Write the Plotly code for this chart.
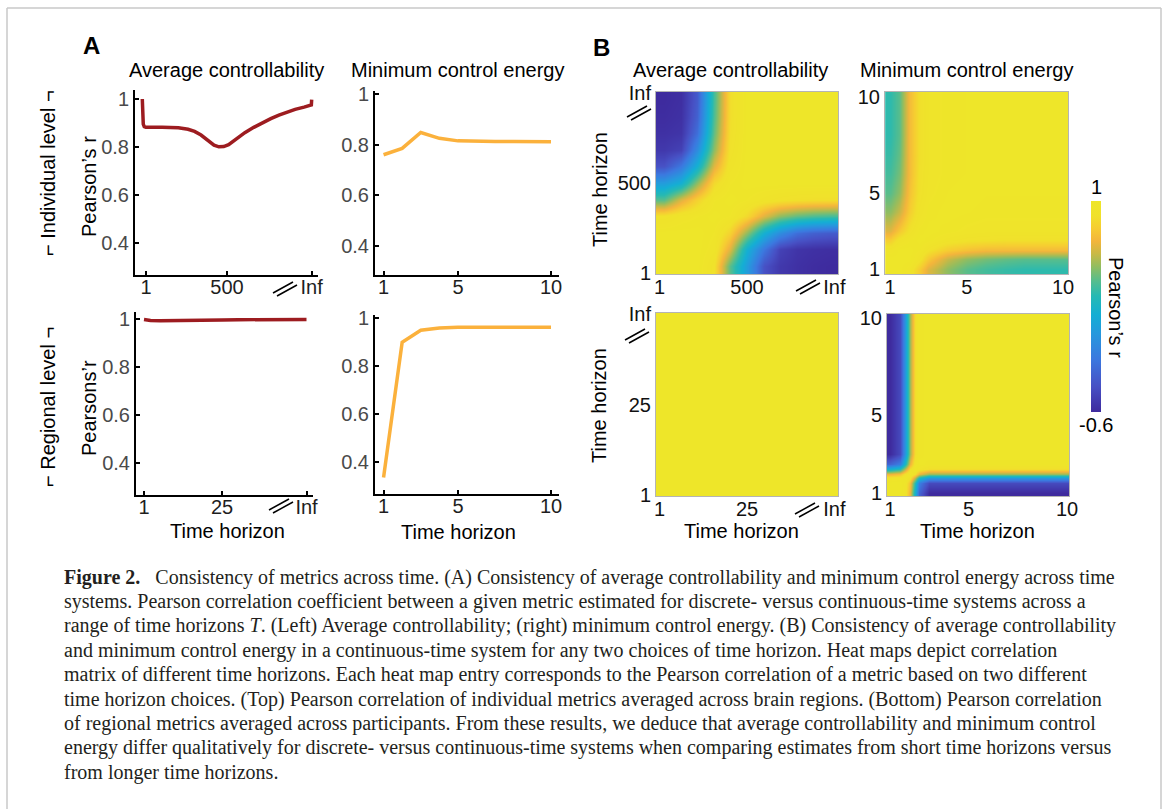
import plotly.graph_objects as go

W, H = 1168, 809


def fx(p):
    return p / W


def fy(p):
    return 1 - p / H


# ---------------- data: panel A (line plots) ----------------
# Individual level, average controllability (x: time horizon, Inf placed at 1022)
avgctrl_ind_T = [-22, -20, -16, -10, 0, 100, 200, 260, 300, 340, 380, 420, 450, 480, 510,
                 560, 610, 665, 720, 770, 820, 870, 920, 975, 1020, 1022]
avgctrl_ind_r = [1.0, 0.94, 0.895, 0.885, 0.882, 0.882, 0.88, 0.874, 0.865, 0.85, 0.83, 0.808,
                 0.801, 0.802, 0.81, 0.835, 0.86, 0.882, 0.902, 0.918, 0.933, 0.946, 0.957,
                 0.966, 0.975, 0.997]
avgctrl_ind_ticks = [1, 500, 1022]
avgctrl_ind_ticktext = ["1", "500", "Inf"]

# Individual level, minimum control energy
mce_T = [1, 2, 3, 4, 5, 6, 7, 8, 9, 10]
mce_ind_r = [0.76, 0.785, 0.848, 0.825, 0.815, 0.812, 0.812, 0.812, 0.812, 0.811]
mce_ticks = [1, 5, 10]
mce_ticktext = ["1", "5", "10"]

# Regional level, average controllability (Inf placed at 51)
avgctrl_reg_T = [1, 3, 6, 10, 15, 20, 25, 30, 35, 40, 45, 51]
avgctrl_reg_r = [0.998, 0.994, 0.993, 0.993, 0.994, 0.995, 0.996, 0.997, 0.997, 0.998, 0.998, 0.998]
avgctrl_reg_ticks = [1, 25, 51]
avgctrl_reg_ticktext = ["1", "25", "Inf"]

# Regional level, minimum control energy
mce_reg_r = [0.336, 0.899, 0.949, 0.958, 0.961, 0.962, 0.962, 0.962, 0.962, 0.962]

r_ticks = [0.4, 0.6, 0.8, 1]
r_ticktext = ["0.4", "0.6", "0.8", "1"]

# ---------------- data: panel B (heat maps) ----------------
# average controllability, individual level: grid position 0 (T=1) .. 1 (T=Inf)
ac_grid = [0.0, 0.1, 0.2, 0.3, 0.4, 0.5, 0.6, 0.7, 0.8, 0.9, 1.0]
ac_ind_z = [
    [1.00, 1.00, 1.00, 0.90, 0.40, 0.02, -0.40, -0.53, -0.57, -0.59, -0.60],
    [1.00, 1.00, 1.00, 0.95, 0.65, 0.15, -0.20, -0.48, -0.55, -0.57, -0.58],
    [1.00, 1.00, 1.00, 0.97, 0.82, 0.50, 0.15, -0.08, -0.25, -0.32, -0.35],
    [0.90, 0.95, 0.97, 1.00, 0.97, 0.85, 0.65, 0.50, 0.42, 0.38, 0.36],
    [0.40, 0.65, 0.82, 0.97, 1.00, 0.97, 0.93, 0.90, 0.88, 0.87, 0.87],
    [0.02, 0.15, 0.50, 0.85, 0.97, 1.00, 1.00, 1.00, 1.00, 1.00, 1.00],
    [-0.40, -0.20, 0.15, 0.65, 0.93, 1.00, 1.00, 1.00, 1.00, 1.00, 1.00],
    [-0.53, -0.48, -0.08, 0.50, 0.90, 1.00, 1.00, 1.00, 1.00, 1.00, 1.00],
    [-0.57, -0.55, -0.25, 0.42, 0.88, 1.00, 1.00, 1.00, 1.00, 1.00, 1.00],
    [-0.59, -0.57, -0.32, 0.38, 0.87, 1.00, 1.00, 1.00, 1.00, 1.00, 1.00],
    [-0.60, -0.58, -0.35, 0.36, 0.87, 1.00, 1.00, 1.00, 1.00, 1.00, 1.00],
]
ac_ticks_x = [-0.028, 0.5, 1.028]
ac_ticks_y = [-0.042, 0.5, 1.042]
ac_ind_ticktext = ["1", "500", "Inf"]
ac_reg_ticktext = ["1", "25", "Inf"]

# average controllability, regional level
ac_reg_grid = [0.0, 0.5, 1.0]
ac_reg_z = [
    [1.00, 0.995, 0.99],
    [0.995, 1.00, 0.995],
    [0.99, 0.995, 1.00],
]

# minimum control energy, individual level
mce_ind_grid = [1, 1.5, 2, 2.5, 3, 4, 5, 6, 7, 8, 9, 10]
mce_ind_z = [
    [1.00, 1.00, 0.95, 0.80, 0.65, 0.50, 0.40, 0.35, 0.32, 0.30, 0.30, 0.30],
    [1.00, 1.00, 1.00, 0.92, 0.78, 0.60, 0.50, 0.45, 0.42, 0.40, 0.40, 0.40],
    [0.95, 1.00, 1.00, 0.97, 0.90, 0.80, 0.75, 0.72, 0.72, 0.72, 0.72, 0.72],
    [0.80, 0.92, 0.97, 1.00, 0.98, 0.93, 0.90, 0.89, 0.88, 0.88, 0.88, 0.88],
    [0.65, 0.78, 0.90, 0.98, 1.00, 0.98, 0.96, 0.95, 0.95, 0.95, 0.95, 0.95],
    [0.50, 0.60, 0.80, 0.93, 0.98, 1.00, 0.99, 0.98, 0.98, 0.98, 0.98, 0.98],
    [0.40, 0.50, 0.75, 0.90, 0.96, 0.99, 1.00, 0.99, 0.99, 0.99, 0.99, 0.99],
    [0.35, 0.45, 0.72, 0.89, 0.95, 0.98, 0.99, 1.00, 1.00, 1.00, 0.99, 0.99],
    [0.32, 0.42, 0.72, 0.88, 0.95, 0.98, 0.99, 1.00, 1.00, 1.00, 1.00, 1.00],
    [0.30, 0.40, 0.72, 0.88, 0.95, 0.98, 0.99, 1.00, 1.00, 1.00, 1.00, 1.00],
    [0.30, 0.40, 0.72, 0.88, 0.95, 0.98, 0.99, 0.99, 1.00, 1.00, 1.00, 1.00],
    [0.30, 0.40, 0.72, 0.88, 0.95, 0.98, 0.99, 0.99, 1.00, 1.00, 1.00, 1.00],
]

# minimum control energy, regional level
mce_reg_grid = [1, 1.5, 1.75, 2.0, 2.25, 2.5, 3, 4, 5, 6, 7, 8, 9, 10]
mce_reg_z = [
    [1.00, 1.00, 0.94, 0.68, 0.17, -0.30, -0.60, -0.60, -0.60, -0.60, -0.60, -0.60, -0.60, -0.60],
    [1.00, 1.00, 0.96, 0.74, 0.28, -0.16, -0.44, -0.44, -0.44, -0.44, -0.44, -0.44, -0.44, -0.44],
    [0.94, 0.96, 1.00, 0.90, 0.57, 0.22, -0.02, -0.02, -0.02, -0.02, -0.02, -0.02, -0.02, -0.02],
    [0.68, 0.74, 0.90, 1.00, 0.88, 0.68, 0.52, 0.52, 0.52, 0.52, 0.52, 0.52, 0.52, 0.52],
    [0.17, 0.28, 0.57, 0.88, 1.00, 0.95, 0.87, 0.87, 0.87, 0.87, 0.87, 0.87, 0.87, 0.87],
    [-0.30, -0.16, 0.22, 0.68, 0.95, 1.00, 0.98, 0.98, 0.98, 0.98, 0.98, 0.98, 0.98, 0.98],
    [-0.60, -0.44, -0.02, 0.52, 0.87, 0.98, 1.00, 1.00, 1.00, 1.00, 1.00, 1.00, 1.00, 1.00],
    [-0.60, -0.44, -0.02, 0.52, 0.87, 0.98, 1.00, 1.00, 1.00, 1.00, 1.00, 1.00, 1.00, 1.00],
    [-0.60, -0.44, -0.02, 0.52, 0.87, 0.98, 1.00, 1.00, 1.00, 1.00, 1.00, 1.00, 1.00, 1.00],
    [-0.60, -0.44, -0.02, 0.52, 0.87, 0.98, 1.00, 1.00, 1.00, 1.00, 1.00, 1.00, 1.00, 1.00],
    [-0.60, -0.44, -0.02, 0.52, 0.87, 0.98, 1.00, 1.00, 1.00, 1.00, 1.00, 1.00, 1.00, 1.00],
    [-0.60, -0.44, -0.02, 0.52, 0.87, 0.98, 1.00, 1.00, 1.00, 1.00, 1.00, 1.00, 1.00, 1.00],
    [-0.60, -0.44, -0.02, 0.52, 0.87, 0.98, 1.00, 1.00, 1.00, 1.00, 1.00, 1.00, 1.00, 1.00],
    [-0.60, -0.44, -0.02, 0.52, 0.87, 0.98, 1.00, 1.00, 1.00, 1.00, 1.00, 1.00, 1.00, 1.00],
]

caption_lines = [
    "<b>Figure 2.</b>\u2002 Consistency of metrics across time. (A) Consistency of average controllability and minimum control energy across time",
    "systems. Pearson correlation coefficient between a given metric estimated for discrete- versus continuous-time systems across a",
    "range of time horizons <i>T</i>. (Left) Average controllability; (right) minimum control energy. (B) Consistency of average controllability",
    "and minimum control energy in a continuous-time system for any two choices of time horizon. Heat maps depict correlation",
    "matrix of different time horizons. Each heat map entry corresponds to the Pearson correlation of a metric based on two different",
    "time horizon choices. (Top) Pearson correlation of individual metrics averaged across brain regions. (Bottom) Pearson correlation",
    "of regional metrics averaged across participants. From these results, we deduce that average controllability and minimum control",
    "energy differ qualitatively for discrete- versus continuous-time systems when comparing estimates from short time horizons versus",
    "from longer time horizons.",
]

# ---------------- style ----------------
SANS = "Liberation Sans, Arial, Helvetica, sans-serif"
SERIF = "Liberation Serif, Times New Roman, serif"
RED = "#9d1c20"
ORANGE = "#fbb13c"
PARULA = [
    [0.00, "#3e2b9e"], [0.12, "#4750c4"], [0.25, "#3b78df"], [0.37, "#2698dd"],
    [0.46, "#14aed4"], [0.55, "#26b9b3"], [0.62, "#55bd8e"], [0.69, "#92bd60"],
    [0.75, "#c9b946"], [0.81, "#f3b53c"], [0.87, "#f6cc32"], [0.93, "#f0e12b"],
    [1.00, "#eee629"],
]

fig = go.Figure()

# ---------------- panel A traces ----------------
fig.add_trace(go.Scatter(x=avgctrl_ind_T, y=avgctrl_ind_r, mode="lines",
                         line=dict(color=RED, width=3.5), xaxis="x", yaxis="y"))
fig.add_trace(go.Scatter(x=mce_T, y=mce_ind_r, mode="lines",
                         line=dict(color=ORANGE, width=3.5), xaxis="x2", yaxis="y2"))
fig.add_trace(go.Scatter(x=avgctrl_reg_T, y=avgctrl_reg_r, mode="lines",
                         line=dict(color=RED, width=3.5), xaxis="x3", yaxis="y3"))
fig.add_trace(go.Scatter(x=mce_T, y=mce_reg_r, mode="lines",
                         line=dict(color=ORANGE, width=3.5), xaxis="x4", yaxis="y4"))

# ---------------- panel B traces ----------------
fig.add_trace(go.Heatmap(z=ac_ind_z, x=ac_grid, y=ac_grid, coloraxis="coloraxis",
                         zsmooth="best", xaxis="x5", yaxis="y5"))
fig.add_trace(go.Heatmap(z=mce_ind_z, x=mce_ind_grid, y=mce_ind_grid, coloraxis="coloraxis",
                         zsmooth="best", xaxis="x6", yaxis="y6"))
fig.add_trace(go.Heatmap(z=ac_reg_z, x=ac_reg_grid, y=ac_reg_grid, coloraxis="coloraxis",
                         zsmooth="best", xaxis="x7", yaxis="y7"))
fig.add_trace(go.Heatmap(z=mce_reg_z, x=mce_reg_grid, y=mce_reg_grid, coloraxis="coloraxis",
                         zsmooth="best", xaxis="x8", yaxis="y8"))


def line_xaxis(x0, x1, anchor, rng, tv, tt, standoff=-7):
    return dict(domain=[fx(x0), fx(x1)], anchor=anchor, range=rng, tickvals=tv, ticktext=tt,
                showline=True, linecolor="black", linewidth=2, ticks="inside", ticklen=4,
                tickwidth=1.5, tickcolor="black", showgrid=False, zeroline=False,
                ticklabelstandoff=standoff,
                tickfont=dict(family=SANS, size=20, color="#1e1e1e"), fixedrange=True)


def line_yaxis(y0, y1, anchor, rng):
    return dict(domain=[fy(y1), fy(y0)], anchor=anchor, range=rng, tickvals=r_ticks,
                ticktext=r_ticktext, showline=True, linecolor="black", linewidth=2,
                ticks="inside", ticklen=4, tickwidth=1.5, tickcolor="black", showgrid=False,
                zeroline=False, tickfont=dict(family=SANS, size=20, color="#4a4a4a"),
                fixedrange=True)


def heat_axis(a0, a1, horizontal, anchor, rng, tv, tt):
    dom = [fx(a0), fx(a1)] if horizontal else [fy(a1), fy(a0)]
    return dict(domain=dom, anchor=anchor, range=rng, tickvals=tv, ticktext=tt,
                showline=True, mirror=True, linecolor="#b4b4b4", linewidth=1, ticks="",
                showgrid=False, zeroline=False, ticklabelstandoff=(-5 if horizontal else 0),
                tickfont=dict(family=SANS, size=20, color="#111111"), fixedrange=True)


fig.update_layout(
    width=W, height=H, margin=dict(l=0, r=0, t=0, b=0, autoexpand=False),
    paper_bgcolor="white", plot_bgcolor="white", showlegend=False,
    font=dict(family=SANS, size=20, color="black"),
    xaxis=line_xaxis(135, 318, "y", [-67, 1061], avgctrl_ind_ticks, avgctrl_ind_ticktext),
    yaxis=line_yaxis(90, 275, "x", [0.267, 1.0375]),
    xaxis2=line_xaxis(375, 559, "y2", [0.54, 10.43], mce_ticks, mce_ticktext),
    yaxis2=line_yaxis(91, 275, "x2", [0.285, 1.012]),
    xaxis3=line_xaxis(136, 313, "y3", [-1.46, 53.0], avgctrl_reg_ticks, avgctrl_reg_ticktext),
    yaxis3=line_yaxis(312, 495, "x3", [0.267, 1.029]),
    xaxis4=line_xaxis(375, 559, "y4", [0.54, 10.43], mce_ticks, mce_ticktext),
    yaxis4=line_yaxis(315, 494, "x4", [0.267, 1.0125]),
    xaxis5=heat_axis(656, 838, True, "y5", [-0.05, 1.05], ac_ticks_x, ac_ind_ticktext),
    yaxis5=heat_axis(92, 274, False, "x5", [-0.05, 1.05], ac_ticks_y, ac_ind_ticktext),
    xaxis6=heat_axis(885, 1068, True, "y6", [0.74, 10.26], mce_ticks, mce_ticktext),
    yaxis6=heat_axis(92, 274, False, "x6", [0.74, 10.26], mce_ticks, mce_ticktext),
    xaxis7=heat_axis(656, 838, True, "y7", [-0.05, 1.05], ac_ticks_x, ac_reg_ticktext),
    yaxis7=heat_axis(313, 496, False, "x7", [-0.05, 1.05], ac_ticks_y, ac_reg_ticktext),
    xaxis8=heat_axis(887, 1069, True, "y8", [0.85, 10.1], mce_ticks, mce_ticktext),
    yaxis8=heat_axis(314, 496, False, "x8", [0.85, 10.2], mce_ticks, mce_ticktext),
    coloraxis=dict(
        cmin=-0.6, cmax=1, colorscale=PARULA,
        colorbar=dict(x=fx(1091), xanchor="left", xpad=0, ypad=0, thickness=10,
                      lenmode="pixels", len=211, y=fy(306.5), yanchor="middle",
                      showticklabels=False, ticks="", outlinewidth=0),
    ),
)

annotations = []


def text(x, y, s, size=20, color="black", angle=0, xanchor="center", family=SANS):
    annotations.append(dict(x=fx(x), y=fy(y), xref="paper", yref="paper", text=s,
                            showarrow=False, xanchor=xanchor, yanchor="middle",
                            textangle=angle, font=dict(family=family, size=size, color=color)))


# panel letters
text(91, 46, "<b>A</b>", size=24)
text(601, 48, "<b>B</b>", size=24)
# column titles
text(226, 70, "Average controllability")
text(457, 70, "Minimum control energy")
text(730, 70, "Average controllability")
text(966, 70, "Minimum control energy")
# row labels
text(48, 173, "\u2310 Individual level \u00ac", angle=-90)
text(48, 407, "\u2310 Regional level \u00ac", angle=-90)
# axis titles
text(89, 187, "Pearson\u2019s r", angle=-90)
text(89, 408, "Pearsons\u2019r", angle=-90)
text(227, 531, "Time horizon")
text(458, 532, "Time horizon")
text(741, 531, "Time horizon")
text(977, 531, "Time horizon")
text(600, 190, "Time horizon", angle=-90)
text(599, 406, "Time horizon", angle=-90)
# colorbar labels
text(1096, 187, "1")
text(1096, 425, "-0.6")
text(1116, 307, "Pearson\u2019s r", angle=90)
# caption
for i, line in enumerate(caption_lines):
    text(62, 577 + i * 24.4, line, size=20, color="#231f20", xanchor="left", family=SERIF)

shapes = []


def seg(x0, y0, x1, y1, color="black", width=1.5):
    shapes.append(dict(type="line", xref="paper", yref="paper", x0=fx(x0), y0=fy(y0),
                       x1=fx(x1), y1=fy(y1), line=dict(color=color, width=width)))


def break_mark(cx, cy):
    seg(cx - 12, cy + 4, cx + 8, cy - 7)
    seg(cx - 8, cy + 7, cx + 12, cy - 4)


for c in [(285, 289), (281, 506), (808, 287), (639, 113), (637, 336), (807, 510)]:
    break_mark(*c)

# outer frame
seg(7, 8, 1161, 8, color="#c8c8c8", width=1.5)
seg(7, 8, 7, 809, color="#c8c8c8", width=1.5)
seg(1161, 8, 1161, 809, color="#c8c8c8", width=1.5)

fig.update_layout(annotations=annotations, shapes=shapes)
fig.write_html("out.html")
